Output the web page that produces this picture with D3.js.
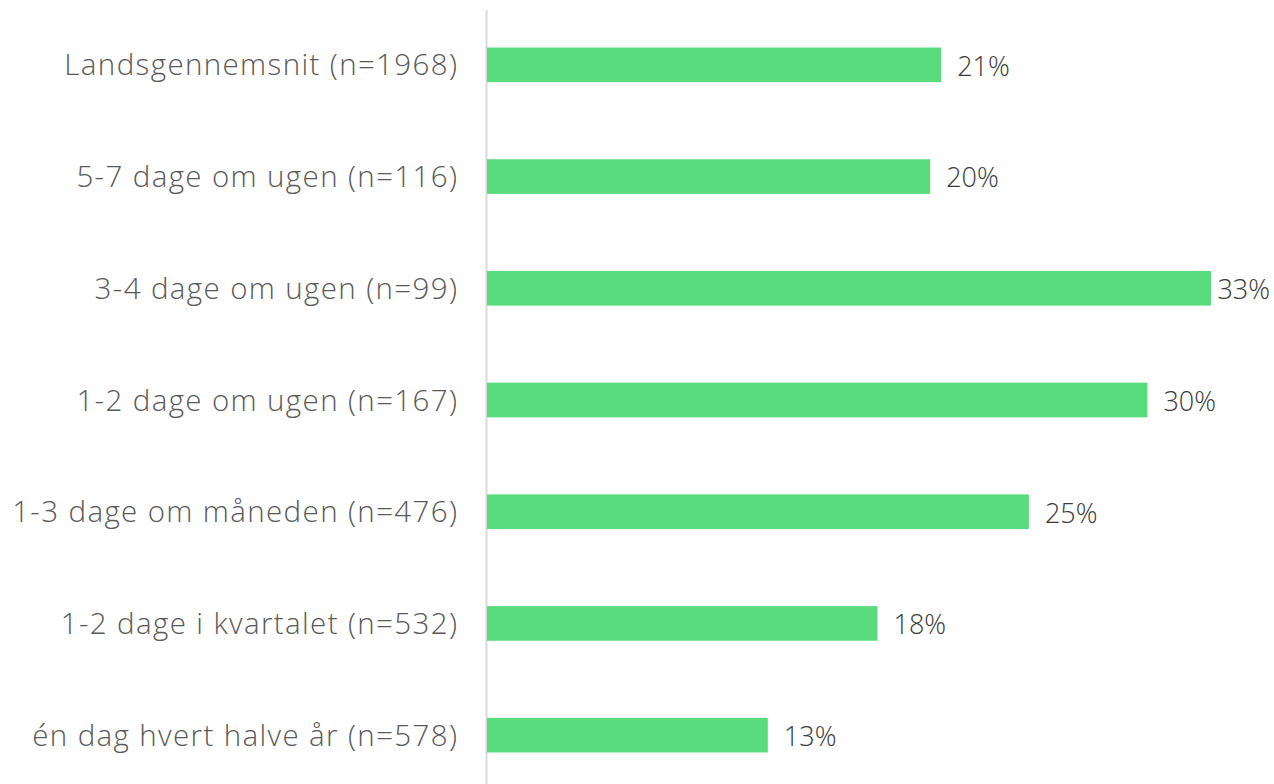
<!DOCTYPE html>
<html><head><meta charset="utf-8">
<script src="https://cdn.jsdelivr.net/npm/d3@7"></script>
<style>html,body{margin:0;padding:0;background:#fff;}</style>
</head><body>
<svg id="c" width="1274" height="784"></svg>
<script>
const categories = [
  "Landsgennemsnit (n=1968)",
  "5-7 dage om ugen (n=116)",
  "3-4 dage om ugen (n=99)",
  "1-2 dage om ugen (n=167)",
  "1-3 dage om måneden (n=476)",
  "1-2 dage i kvartalet (n=532)",
  "én dag hvert halve år (n=578)"
];
const values = [20.7, 20.2, 33.0, 30.1, 24.7, 17.8, 12.8];
const valueLabels = ["21%", "20%", "33%", "30%", "25%", "18%", "13%"];

const W = 1274, H = 784;
const svg = d3.select("#c");
const x = d3.scaleLinear().domain([0, 33]).range([487, 1211]);
const y = d3.scaleBand().domain(categories).range([9, 791]).paddingInner(0.69).paddingOuter(0.345);

svg.append("line").attr("x1", 486.5).attr("x2", 486.5).attr("y1", 10).attr("y2", H)
  .attr("stroke", "#d9d9d9").attr("stroke-width", 2);

const font = "'Open Sans', Lato, sans-serif";

svg.selectAll("rect.bar").data(values).join("rect")
  .attr("class", "bar")
  .attr("x", x(0)).attr("y", (d, i) => y(categories[i]))
  .attr("width", d => x(d) - x(0)).attr("height", y.bandwidth())
  .attr("fill", "#5adc7e");

const cats = svg.selectAll("text.cat").data(categories).join("text")
  .attr("class", "cat")
  .attr("x", 457).attr("y", d => y(d) + y.bandwidth() / 2)
  .attr("dy", "0.36em").attr("text-anchor", "end")
  .attr("font-family", font).attr("font-size", 29.5).attr("font-weight", 300).attr("fill", "#595959")
  .text(d => d);
// fit to the reference's wide typeface
const baseW = cats.node().getComputedTextLength();
const ls = (394 - baseW) / categories[0].length;
cats.attr("letter-spacing", ls).attr("x", 457 + ls);

svg.selectAll("text.val").data(values).join("text")
  .attr("class", "val")
  .attr("y", (d, i) => y(categories[i]) + y.bandwidth() / 2)
  .attr("dy", "0.4em")
  .attr("font-family", font).attr("font-size", 27).attr("font-weight", 300).attr("fill", "#3a3a3a")
  .text((d, i) => valueLabels[i])
  .each(function(d) {
    const w = this.getComputedTextLength();
    const px = Math.min(x(d) + 16, W - w - 4);
    d3.select(this).attr("x", px);
  });
</script>
</body></html>
